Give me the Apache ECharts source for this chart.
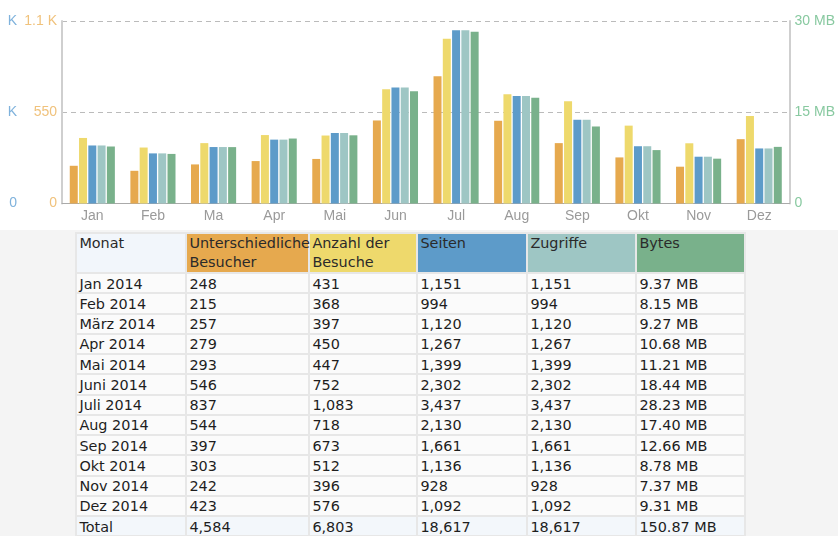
<!DOCTYPE html>
<html>
<head>
<meta charset="utf-8">
<script src="https://cdn.jsdelivr.net/npm/echarts@6/dist/echarts.min.js"></script>
<style>
  html, body { margin: 0; padding: 0; width: 838px; height: 536px; overflow: hidden; background: #fff; }
  #chart { position: absolute; left: 0; top: 0; width: 838px; height: 230px; background: #fff; }
  #panel { position: absolute; left: 0; top: 230px; width: 838px; height: 306px; background: #f4f4f4; }
  #stats {
    position: absolute; left: 75.4px; top: 2px; width: 671px;
    border-collapse: separate; border-spacing: 2px; background: #e7e7e7;
    table-layout: fixed; font-family: "DejaVu Sans", Verdana, sans-serif; font-size: 14.4px; color: #1e1e1e;
  }
  #stats td, #stats th {
    box-sizing: border-box;
    padding: 0 1px 0 2px; background: #fbfbfb;
    text-align: left; font-weight: normal; vertical-align: middle; white-space: nowrap; overflow: visible;
  }
  #stats tr.data { height: 18.25px; }
  #stats tr.data td { height: 18.25px; line-height: 16px; padding-top: 1px; }
  #stats th { height: 38px; line-height: 19px; white-space: normal; vertical-align: top; color: #2a2a2a; }
  #stats tr.total td { background: #f3f7fb; }
</style>
</head>
<body>
<div id="chart"></div>
<div id="panel"><table id="stats"></table></div>
<script>
// monthly history 2014
const months = ['Jan', 'Feb', 'Ma', 'Apr', 'Mai', 'Jun', 'Jul', 'Aug', 'Sep', 'Okt', 'Nov', 'Dez'];
const rowLabels = ['Jan 2014', 'Feb 2014', 'März 2014', 'Apr 2014', 'Mai 2014', 'Juni 2014',
  'Juli 2014', 'Aug 2014', 'Sep 2014', 'Okt 2014', 'Nov 2014', 'Dez 2014'];
const visitors = [248, 215, 257, 279, 293, 546, 837, 544, 397, 303, 242, 423];
const visits = [431, 368, 397, 450, 447, 752, 1083, 718, 673, 512, 396, 576];
const pages = [1151, 994, 1120, 1267, 1399, 2302, 3437, 2130, 1661, 1136, 928, 1092];
const hits = [1151, 994, 1120, 1267, 1399, 2302, 3437, 2130, 1661, 1136, 928, 1092];
const bytesMB = [9.37, 8.15, 9.27, 10.68, 11.21, 18.44, 28.23, 17.40, 12.66, 8.78, 7.37, 9.31];

const headers = ['Monat', 'Unterschiedliche Besucher', 'Anzahl der Besuche', 'Seiten', 'Zugriffe', 'Bytes'];
const visitTicks = ['0', '550', '1.1 K'];
const pageTicks = ['0', 'K', 'K'];
const byteTicks = ['0', '15 MB', '30 MB'];

const colors = {
  visitors: '#e6a94e', visits: '#eed96c', pages: '#5d9bc9', hits: '#9ec6c4', bytes: '#79b18b',
  monat: '#f2f6fb'
};

// ---- table ----
function fmt(n) { return n.toLocaleString('en-US'); }
function sum(a) { return a.reduce((s, v) => s + v, 0); }

const table = document.getElementById('stats');
const widths = [108, 121, 106, 108, 107, 107];
const headBg = [colors.monat, colors.visitors, colors.visits, colors.pages, colors.hits, colors.bytes];
let html = '<colgroup>' + widths.map(w => `<col style="width:${w}px">`).join('') + '</colgroup>';
html += '<tr>' + headers.map((h, i) => `<th style="background:${headBg[i]}">${h}</th>`).join('') + '</tr>';
rowLabels.forEach((m, i) => {
  html += `<tr class="data"><td>${m}</td><td>${fmt(visitors[i])}</td><td>${fmt(visits[i])}</td>` +
    `<td>${fmt(pages[i])}</td><td>${fmt(hits[i])}</td><td>${bytesMB[i].toFixed(2)} MB</td></tr>`;
});
html += `<tr class="data total"><td>Total</td><td>${fmt(sum(visitors))}</td><td>${fmt(sum(visits))}</td>` +
  `<td>${fmt(sum(pages))}</td><td>${fmt(sum(hits))}</td><td>${sum(bytesMB).toFixed(2)} MB</td></tr>`;
table.innerHTML = html;

// ---- chart ----
const chart = echarts.init(document.getElementById('chart'));
const font = '"Liberation Sans", Arial, sans-serif';

function barSeries(name, data, axis, color) {
  return {
    name, type: 'bar', data, yAxisIndex: axis, barWidth: 8, barGap: '16%',
    itemStyle: { color }, emphasis: { disabled: true }
  };
}

const option = {
  animation: false,
  grid: { left: 62, right: 46, top: 21, bottom: 26.5 },
  xAxis: {
    type: 'category', data: months,
    axisLine: { lineStyle: { color: '#aaa', width: 1 } },
    axisTick: { show: false },
    axisLabel: { color: '#9a9a9a', fontSize: 14, fontFamily: font, margin: 6, interval: 0 }
  },
  yAxis: [
    {
      type: 'value', position: 'left', min: 0, max: 1200, interval: 600,
      axisLine: { show: true, lineStyle: { color: '#cfcfcf', width: 2 } },
      axisTick: { show: false },
      splitLine: { show: true, lineStyle: { color: '#bbb', type: [5, 4] } },
      axisLabel: { color: '#f0c27c', fontSize: 14, fontFamily: font, margin: 5,
        formatter: (v) => visitTicks[Math.round(v / 600)] }
    },
    {
      type: 'value', position: 'left', min: 0, max: 3620, interval: 1810,
      axisLine: { show: false }, axisTick: { show: false }, splitLine: { show: false },
      axisLabel: { color: '#7fb2dc', fontSize: 14, fontFamily: font, margin: 45,
        formatter: (v) => pageTicks[Math.round(v / 1810)] }
    },
    {
      type: 'value', position: 'right', min: 0, max: 30, interval: 15,
      axisLine: { show: true, lineStyle: { color: '#cfcfcf', width: 2 } },
      axisTick: { show: false }, splitLine: { show: false },
      axisLabel: { color: '#88c9a0', fontSize: 14, fontFamily: font, margin: 5,
        formatter: (v) => byteTicks[Math.round(v / 15)] }
    }
  ],
  series: [
    barSeries('Unterschiedliche Besucher', visitors, 0, colors.visitors),
    barSeries('Anzahl der Besuche', visits, 0, colors.visits),
    barSeries('Seiten', pages, 1, colors.pages),
    barSeries('Zugriffe', hits, 1, colors.hits),
    barSeries('Bytes', bytesMB, 2, colors.bytes)
  ]
};

chart.setOption(option);
</script>
</body>
</html>
